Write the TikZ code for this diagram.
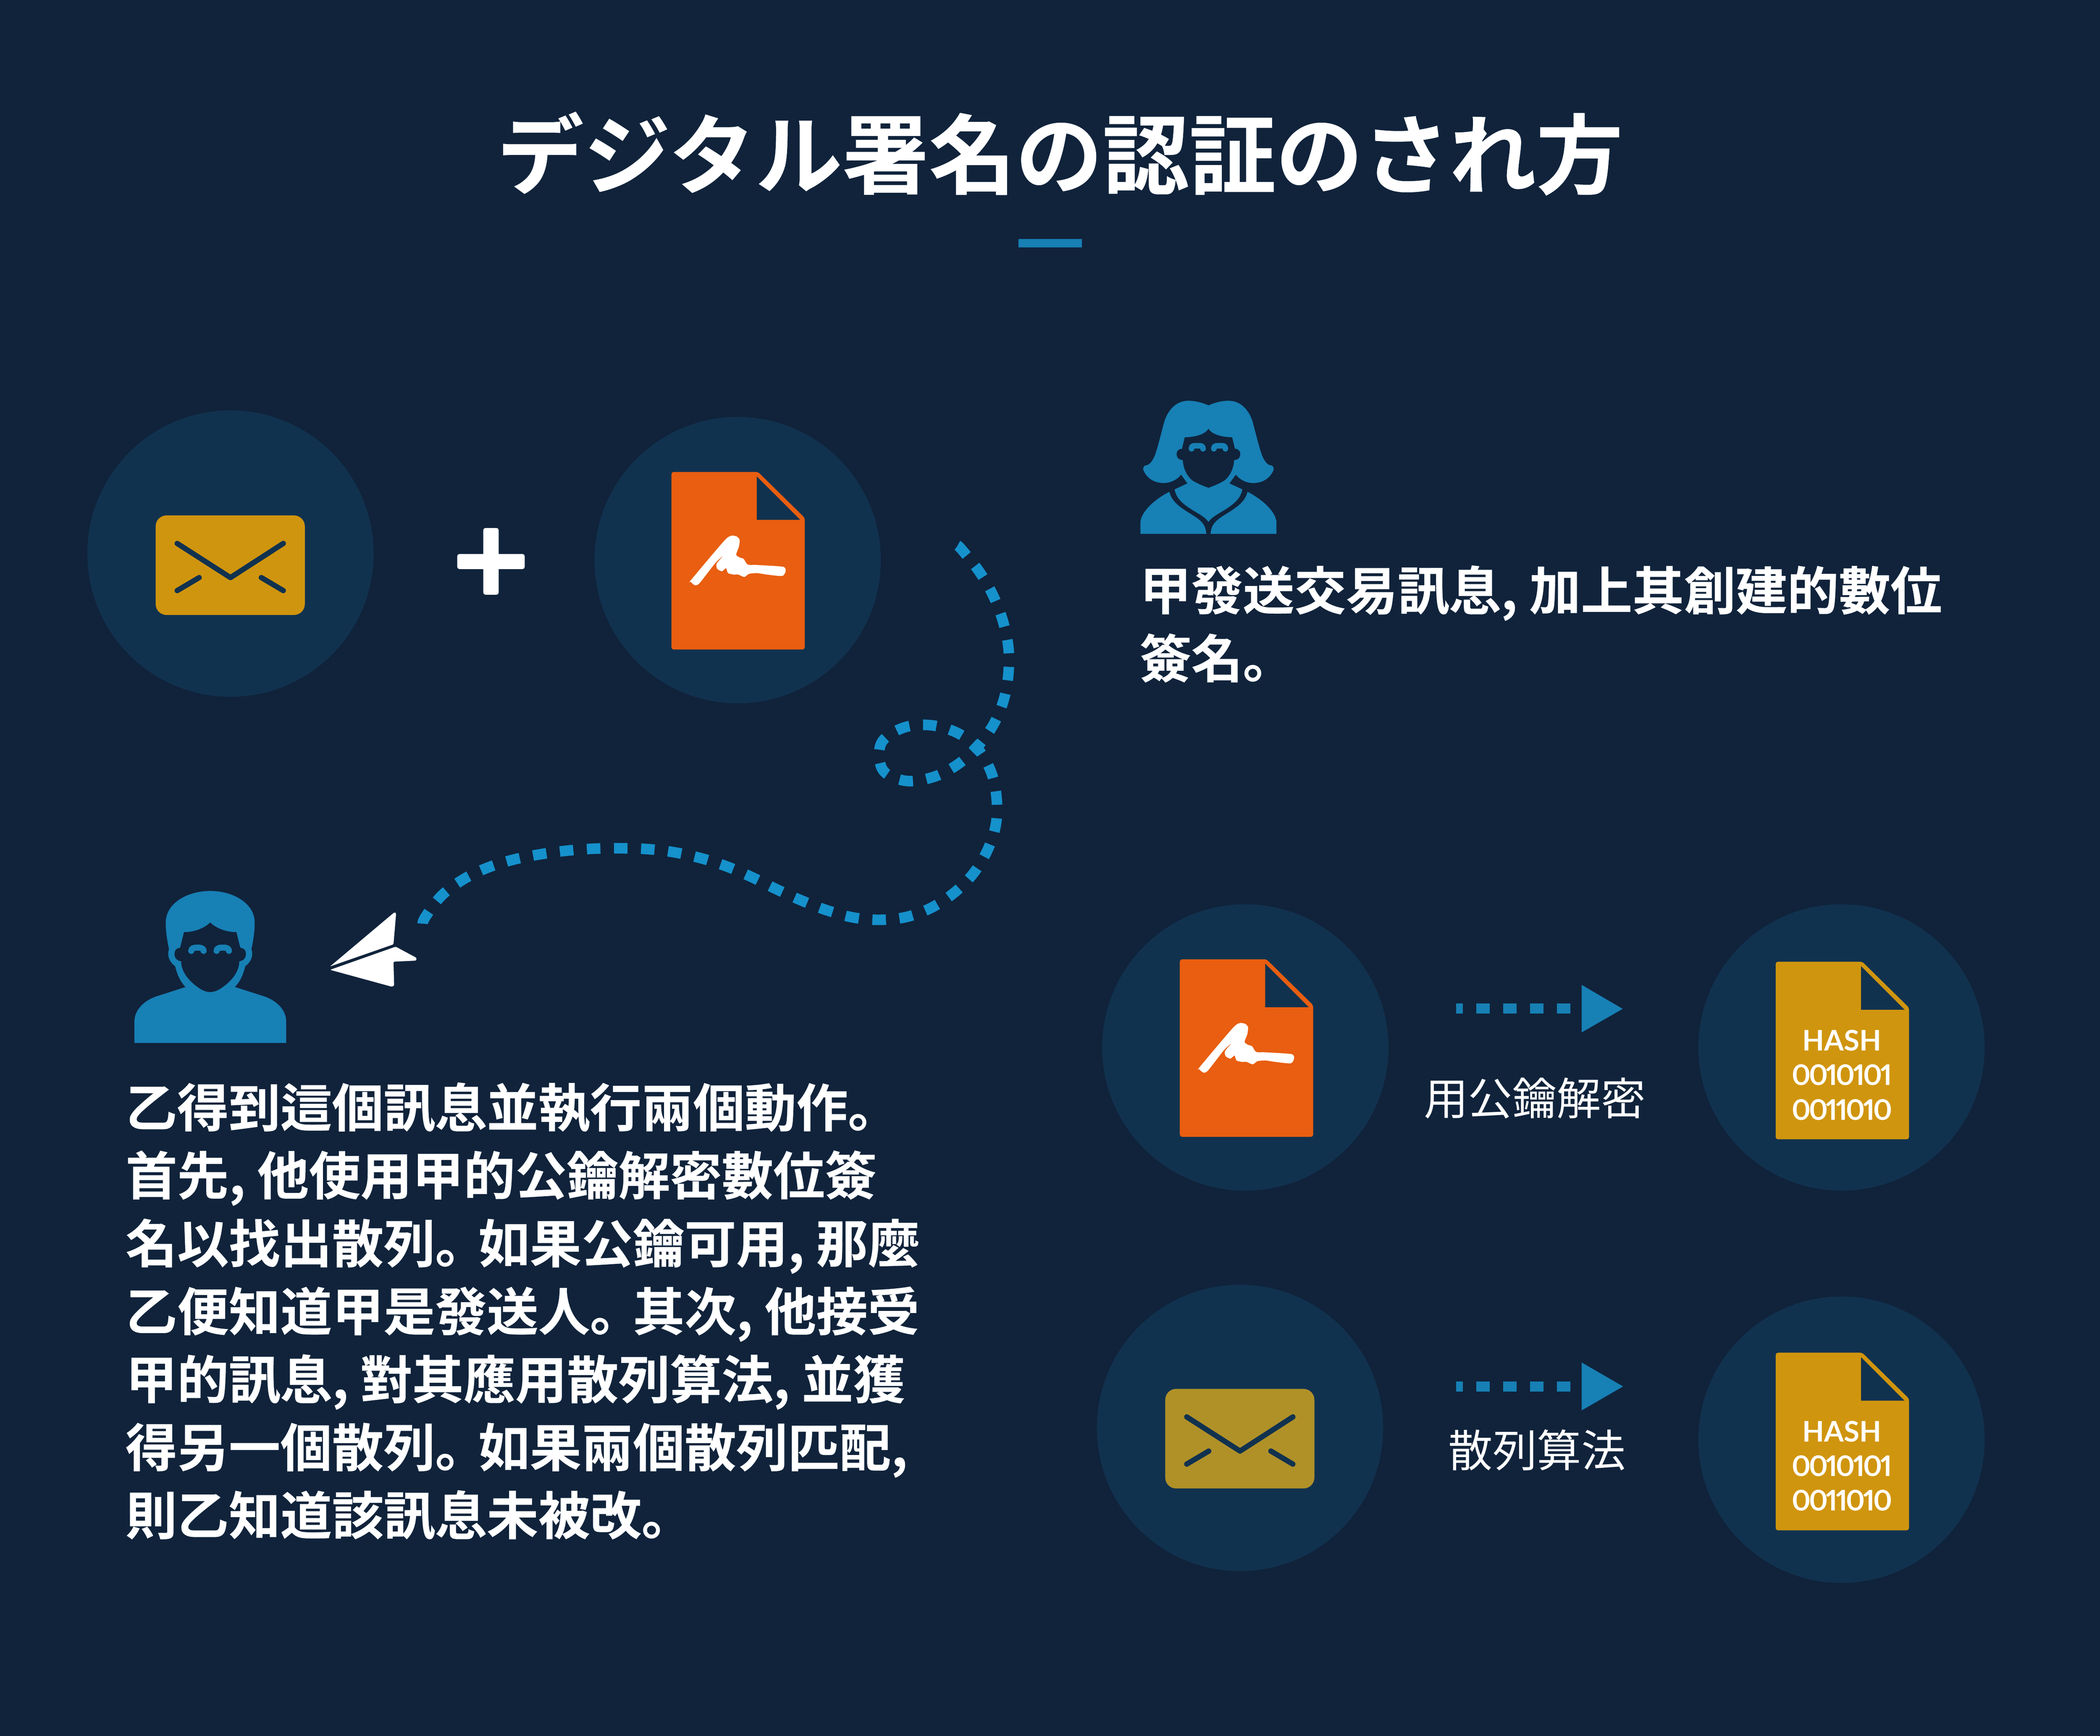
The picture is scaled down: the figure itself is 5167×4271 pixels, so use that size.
\documentclass[tikz,border=0pt]{standalone}
\usepackage{fontspec}
\newfontfamily\cjkbold[FakeBold=0.25]{Noto Sans CJK JP Bold}
\newfontfamily\cjkreg{Noto Sans CJK JP}
\newfontfamily\hashfont{Lato Bold}
\newfontfamily\hashdigits[Numbers=Proportional,LetterSpace=-6]{Lato Bold}
\newcommand{\midstop}{。\kern-6pt\relax}
\newcommand{\midcomma}{,\ }
\definecolor{pagebg}{HTML}{10233B}
\definecolor{disc}{HTML}{11324F}
\definecolor{people}{HTML}{1780B5}
\definecolor{trail}{HTML}{1591CC}
\definecolor{mango}{HTML}{E95E10}
\definecolor{gold}{HTML}{D0950E}
\definecolor{dullgold}{HTML}{B09128}
\tikzset{
  x=0.01cm,y=-0.01cm,
  discnode/.style={circle,fill=disc,minimum size=7.04cm,inner sep=0pt,outer sep=0pt},
  bodytext/.style={text=white,align=left,inner sep=0pt,outer sep=0pt,anchor=north west,
    font=\cjkbold\fontsize{36.1pt}{47.55pt}\selectfont},
  caption/.style={text=white,inner sep=0pt,outer sep=0pt,
    font=\cjkreg\fontsize{31pt}{37pt}\selectfont},
  trailline/.style={draw=trail,line width=7.4pt,dash pattern=on 9.48pt off 9.48pt},
  arrowline/.style={draw=people,line width=7.1pt,dash pattern=on 9.4pt off 9.4pt,dash phase=4.7pt},
  flap/.style={draw=disc,line width=3.7pt,line cap=round,line join=round},
  brow/.style={draw=people,line cap=round,line join=round},
  hashline/.style={text=white,inner sep=0pt,anchor=base},
  pics/docicon/.style={code={
    \fill[#1,rounded corners=1.6pt] (0,0) -- (213,0) -- (328,113) -- (328,437) -- (0,437) -- cycle;
    \fill[disc] (210,11) -- (210,118) -- (317,118) -- cycle;
  }},
  pics/envelope/.style={code={
    \fill[#1,rounded corners=7.6pt] (0,0) rectangle (367,245);
    \draw[flap] (53,69) -- (184,153) -- (314,69);
    \draw[flap] (53,185) -- (107,153);
    \draw[flap] (260,153) -- (314,185);
  }},
  pics/hashtext/.style={code={
    \node[hashline,font=\hashfont\fontsize{19.85pt}{24pt}\selectfont] (#1a) at (163,219) {HASH};
    \node[hashline,font=\hashdigits\fontsize{19.85pt}{24pt}\selectfont] (#1b) at (163,304) {0010101};
    \node[hashline,font=\hashdigits\fontsize{19.85pt}{24pt}\selectfont] (#1c) at (163,389) {0011010};
  }},
}
\begin{document}
\begin{tikzpicture}
\useasboundingbox (0,0) rectangle (5167,4271);
\fill[pagebg] (0,0) rectangle (5167,4271);

% title
\node[text=white,inner sep=0pt,font=\cjkbold\fontsize{60.7pt}{72pt}\selectfont] (title) at (2608,378) {デジタル署名の認証のされ方};
\fill[people] (2506,588) rectangle (2662,609);

% discs
\node[discnode] (d1) at (567,1362) {};
\node[discnode] (d2) at (1815,1378) {};
\node[discnode] (d3) at (3064,2577) {};
\node[discnode] (d4) at (4531,2577) {};
\node[discnode] (d5) at (3051,3513) {};
\node[discnode] (d6) at (4531,3542) {};

% envelopes
\pic at (383,1268) {envelope=gold};
\pic at (2867,3417) {envelope=dullgold};

% plus
\fill[white,rounded corners=1.5pt] (1125,1363) rectangle (1291,1400);
\fill[white,rounded corners=1.5pt] (1189,1299) rectangle (1227,1463);

% signed documents
\foreach \ox/\oy in {1652/1161,2903/2360}{
  \begin{scope}[shift={(\ox,\oy)}]
    \pic at (0,0) {docicon=mango};
    \fill[white] plot[smooth cycle,tension=0.4] coordinates {
      (47.7,266.6) (134.3,164.9) (157.7,157.8) (167.7,166.6) (166,184) (159.3,203.4)
      (167.7,210.5) (177.7,214) (187.7,228) (211,229) (274.3,233.3) (281,243.8)
      (272.7,256) (234.3,252.5) (211,249) (191,250.8) (179.3,258.5) (164.3,252.5)
      (152.7,252.5) (139.3,249) (134.3,236.8) (124.3,244.5) (112.7,238.5) (111,226)
      (127,207) (107.7,224.5) (69.3,273.6) (57.7,278.8) (47,270)};
  \end{scope}
}

% hash documents
\foreach \oy/\nm in {2366/ha,3328/hb}{
  \begin{scope}[shift={(4369,\oy)}]
    \pic at (0,0) {docicon=gold};
    \pic at (0,0) {hashtext=\nm};
  \end{scope}
}

% woman
\begin{scope}[shift={(2700,900)},scale=0.33333]
  \fill[people] (820,292) .. controls (870,270) and (920,258) .. (970,258)
    .. controls (1060,258) and (1120,330) .. (1145,410)
    .. controls (1165,480) and (1190,590) .. (1215,660)
    .. controls (1235,710) and (1260,735) .. (1285,735)
    .. controls (1300,740) and (1305,760) .. (1300,770)
    .. controls (1275,830) and (1220,865) .. (1150,865)
    .. controls (1100,865) and (1050,840) .. (1022,803)
    -- (975,868) -- (1070,912)
    .. controls (1060,970) and (1020,1010) .. (960,1050)
    .. controls (900,1090) and (850,1110) .. (820,1152)
    .. controls (790,1110) and (740,1090) .. (680,1050)
    .. controls (620,1010) and (580,970) .. (570,912)
    -- (665,868) -- (618,803)
    .. controls (590,840) and (540,865) .. (490,865)
    .. controls (420,865) and (365,830) .. (340,770)
    .. controls (335,760) and (340,740) .. (355,735)
    .. controls (380,735) and (405,710) .. (425,660)
    .. controls (450,590) and (475,480) .. (495,410)
    .. controls (520,330) and (580,258) .. (670,258)
    .. controls (720,258) and (770,270) .. (820,292) -- cycle;
  \fill[pagebg] (820,465) .. controls (850,510) and (920,525) .. (995,528)
    .. controls (1005,570) and (1010,590) .. (1015,612)
    .. controls (1040,612) and (1055,630) .. (1055,650)
    .. controls (1055,680) and (1035,695) .. (1010,695)
    .. controls (1005,760) and (980,810) .. (940,845)
    .. controls (900,870) and (850,890) .. (820,900)
    .. controls (790,890) and (740,870) .. (700,845)
    .. controls (660,810) and (635,760) .. (630,695)
    .. controls (605,695) and (585,680) .. (585,650)
    .. controls (585,630) and (600,612) .. (625,612)
    .. controls (630,590) and (635,570) .. (645,528)
    .. controls (720,525) and (790,510) .. (820,465) -- cycle;
  \draw[brow,line width=3.9pt] (695,612) .. controls (695,595) and (705,590) .. (720,590) -- (755,590) .. controls (770,590) and (780,595) .. (780,612);
  \draw[brow,line width=3.9pt] (860,612) .. controls (860,595) and (870,590) .. (885,590) -- (920,590) .. controls (935,590) and (945,595) .. (945,612);
  \fill[people] (318,1240) -- (318,1150) .. controls (330,1060) and (450,970) .. (532,930)
    .. controls (545,990) and (590,1030) .. (660,1075)
    .. controls (730,1120) and (795,1150) .. (802,1225) -- (805,1240) -- cycle;
  \fill[people] (1322,1240) -- (1322,1150) .. controls (1310,1060) and (1190,970) .. (1108,930)
    .. controls (1095,990) and (1050,1030) .. (980,1075)
    .. controls (910,1120) and (845,1150) .. (838,1225) -- (835,1240) -- cycle;
\end{scope}

% man and paper plane
\begin{scope}[shift={(250,2150)},xscale=0.542,yscale=0.33333]
  \fill[people] (493,126) .. controls (600,126) and (695,220) .. (695,360)
    .. controls (695,420) and (690,480) .. (680,555)
    .. controls (688,590) and (685,640) .. (652,682)
    .. controls (640,760) and (625,800) .. (605,835)
    -- (740,905) .. controls (800,940) and (838,1010) .. (838,1090)
    -- (838,1247) -- (149,1247) -- (149,1090)
    .. controls (149,1010) and (187,940) .. (247,905)
    -- (381,835) .. controls (361,800) and (346,760) .. (334,682)
    .. controls (301,640) and (298,590) .. (306,555)
    .. controls (296,480) and (291,420) .. (291,360)
    .. controls (291,220) and (386,126) .. (493,126) -- cycle;
  \fill[pagebg] (493,358) .. controls (515,395) and (560,430) .. (612,430)
    .. controls (620,480) and (625,520) .. (630,545)
    .. controls (650,550) and (655,570) .. (655,590)
    .. controls (655,620) and (645,640) .. (625,645)
    .. controls (625,720) and (590,790) .. (550,835)
    .. controls (530,860) and (510,872) .. (493,872)
    .. controls (476,872) and (456,860) .. (436,835)
    .. controls (396,790) and (361,720) .. (361,645)
    .. controls (341,640) and (331,620) .. (331,590)
    .. controls (331,570) and (336,550) .. (356,545)
    .. controls (361,520) and (366,480) .. (374,430)
    .. controls (426,430) and (471,395) .. (493,358) -- cycle;
  \draw[brow,line width=4.25pt] (407,568) .. controls (407,550) and (418,544) .. (435,544) .. controls (452,544) and (463,550) .. (463,568);
  \draw[brow,line width=4.25pt] (522,568) .. controls (522,550) and (533,544) .. (550,544) .. controls (567,544) and (578,550) .. (578,568);
  \fill[white,rounded corners=0.6pt] (1037,683) -- (1330,282) -- (1337,290) -- (1325,520) -- cycle;
  \fill[white,rounded corners=0.8pt] (1037,708) -- (1335,537) -- (1430,620) -- (1428,640) -- (1325,648) -- (1328,825) -- (1318,833) -- cycle;
\end{scope}

% dashed flight path
\coordinate (trailstart) at (2356,1342);
\coordinate (trailend) at (1040,2275);
\draw[trailline] plot[smooth,tension=0.6] coordinates {
  (trailstart) (2368,1354) (2410,1407) (2443,1464) (2467,1526) (2481,1592) (2481,1659)
  (2469,1724) (2443,1785) (2403,1839) (2353,1883) (2295,1912) (2228,1921) (2172,1894)
  (2168,1829) (2221,1791) (2288,1784) (2353,1802) (2403,1839) (2438,1898) (2452,1963)
  (2450,2030) (2429,2093) (2394,2150) (2347,2197) (2292,2233) (2230,2256) (2163,2263)
  (2098,2257) (2033,2239) (1971,2215) (1909,2187) (1850,2158) (1789,2132) (1727,2112)
  (1660,2097) (1593,2089) (1526,2087) (1461,2088) (1394,2093) (1328,2102) (1263,2115)
  (1199,2135) (1139,2164) (1086,2204) (1046,2257) (trailend)};

% small arrows
\coordinate (a1s) at (3583,2481.5);
\coordinate (a1e) at (3880,2481.5);
\draw[arrowline] (a1s) -- (a1e);
\fill[people] (3891.5,2423) -- (3992.5,2482) -- (3891.5,2540) -- cycle;
\coordinate (a2s) at (3583,3411);
\coordinate (a2e) at (3880,3411);
\draw[arrowline] (a2s) -- (a2e);
\fill[people] (3891.5,3352) -- (3993.5,3411) -- (3891.5,3470) -- cycle;

% captions
\node[caption] (cap1) at (3776,2702) {用公鑰解密};
\node[caption] (cap2) at (3782,3568) {散列算法};

% body texts
\node[bodytext] (txtA) at (2804,1391) {甲發送交易訊息\midcomma 加上其創建的數位\\簽名。};
\node[bodytext] (txtB) at (309,2663) {乙得到這個訊息並執行兩個動作。\\首先\midcomma 他使用甲的公鑰解密數位簽\\名以找出散列\midstop 如果公鑰可用\midcomma 那麼\\乙便知道甲是發送人\midstop 其次\midcomma 他接受\\甲的訊息\midcomma 對其應用散列算法\midcomma 並獲\\得另一個散列\midstop 如果兩個散列匹配,\\則乙知道該訊息未被改。};
\end{tikzpicture}
\end{document}
